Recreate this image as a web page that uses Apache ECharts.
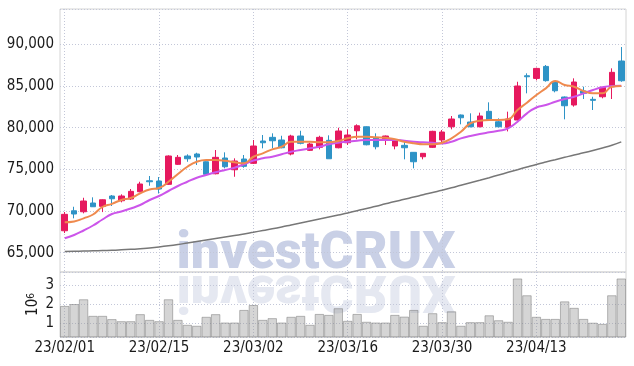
<!DOCTYPE html>
<html>
<head>
<meta charset="utf-8">
<script src="https://cdn.jsdelivr.net/npm/echarts@6/dist/echarts.min.js"></script>
<style>
  html, body { margin: 0; padding: 0; background: #fff; }
  #chart { width: 634px; height: 366px; }
</style>
</head>
<body>
<div id="chart"></div>
<script>
// trading days, 23/02/01 .. 23/04/26
var dates = [
  '23/02/01','23/02/02','23/02/03','23/02/06','23/02/07','23/02/08','23/02/09','23/02/10','23/02/13','23/02/14',
  '23/02/15','23/02/16','23/02/17','23/02/20','23/02/21','23/02/22','23/02/23','23/02/24','23/02/27','23/02/28',
  '23/03/02','23/03/03','23/03/06','23/03/07','23/03/08','23/03/09','23/03/10','23/03/13','23/03/14','23/03/15',
  '23/03/16','23/03/17','23/03/20','23/03/21','23/03/22','23/03/23','23/03/24','23/03/27','23/03/28','23/03/29',
  '23/03/30','23/03/31','23/04/03','23/04/04','23/04/05','23/04/06','23/04/07','23/04/10','23/04/11','23/04/12',
  '23/04/13','23/04/14','23/04/17','23/04/18','23/04/19','23/04/20','23/04/21','23/04/24','23/04/25','23/04/26'
];

var open = [
  67630, 70030, 69910, 70960, 70560, 71800, 71230, 71440, 72310, 73630,
  73600, 73200, 75600, 76600, 76840, 75910, 74470, 76360, 74950, 76240,
  75720, 78400, 78840, 78520, 76840, 79000, 77280, 77640, 78480, 77590,
  78190, 79630, 80110, 78760, 78670, 77800, 77880, 77040, 76510, 77640,
  78520, 80110, 81520, 80680, 80110, 81960, 80710, 80040, 80920, 86230,
  85910, 87350, 85520, 83680, 82720, 84400, 83400, 83710, 84910, 88000
];
var close = [
  69600, 69640, 71200, 70510, 71350, 71470, 71800, 72360, 73240, 73510,
  72640, 76600, 76440, 76270, 76480, 74400, 76440, 75310, 76000, 75360,
  77800, 78190, 78430, 77590, 79000, 78120, 78040, 78840, 76270, 79600,
  79120, 80230, 77950, 77710, 79000, 78400, 77590, 75910, 76920, 79560,
  79480, 81040, 81190, 80110, 81400, 80920, 80110, 81040, 85000, 86110,
  87110, 85640, 84430, 82630, 85480, 84120, 83280, 84840, 86640, 85630
];
var low = [
  67360, 69120, 69720, 70480, 69870, 70600, 71040, 71320, 72240, 73030,
  72100, 73120, 75520, 75910, 75520, 74320, 74400, 75120, 74110, 75190,
  75640, 77520, 77520, 77520, 76680, 78000, 77200, 77400, 76270, 77520,
  77920, 78600, 77880, 77400, 77920, 77400, 76200, 75120, 76200, 77560,
  78190, 79800, 80400, 80040, 80040, 80830, 80040, 79550, 80860, 84120,
  85680, 85520, 84240, 81000, 82520, 83440, 82120, 83520, 83440, 85510
];
var high = [
  69880, 70510, 71590, 71640, 71400, 71920, 72000, 72640, 73510, 74200,
  74080, 76680, 76720, 76800, 76990, 75960, 77320, 77040, 76320, 76720,
  78520, 79120, 79320, 79030, 79150, 79630, 78190, 79030, 79080, 79990,
  79800, 80400, 80160, 79320, 79060, 78520, 78310, 77080, 76960, 79630,
  79720, 81400, 81580, 81720, 81800, 83040, 81120, 81920, 85510, 86520,
  87200, 87520, 85580, 83740, 85920, 84920, 83710, 84880, 87120, 89680
];

// moving averages as drawn
var maShort = [
  68640, 68740, 69120, 69580, 70480, 70860, 71320, 71560, 72120, 72580,
  72760, 73510, 74440, 75310, 75910, 76120, 76120, 76030, 75840, 75720,
  76510, 76920, 77400, 77710, 78310, 78310, 78310, 78240, 78240, 78400,
  78720, 78910, 78910, 78840, 78790, 78600, 78310, 78120, 78000, 78000,
  78190, 78720, 79510, 80520, 80830, 80920, 80920, 81000, 82120, 82990,
  83920, 84720, 85600, 85120, 84910, 84400, 84120, 84120, 84910, 85000
];
var maMid = [
  66720, 67120, 67660, 68260, 68980, 69640, 69940, 70300, 70720, 71320,
  71800, 72400, 73000, 73510, 73990, 74320, 74640, 74920, 75190, 75600,
  76060, 76320, 76510, 76800, 77110, 77320, 77520, 77710, 78000, 78190,
  78310, 78430, 78520, 78520, 78520, 78520, 78430, 78310, 78240, 78190,
  78100, 78310, 78720, 79000, 79240, 79440, 79630, 79920, 80710, 81720,
  82420, 82720, 83110, 83440, 83710, 84120, 84520, 84840, 85000, 85030
];
var maLong = [
  65140, 65160, 65200, 65220, 65260, 65290, 65340, 65400, 65460, 65560,
  65680, 65820, 65980, 66160, 66340, 66520, 66700, 66880, 67060, 67240,
  67450, 67660, 67860, 68080, 68320, 68560, 68800, 69040, 69280, 69520,
  69760, 70020, 70300, 70570, 70860, 71140, 71400, 71680, 71940, 72220,
  72490, 72780, 73090, 73390, 73690, 74000, 74320, 74640, 74960, 75280,
  75590, 75880, 76160, 76440, 76720, 76980, 77260, 77560, 77880, 78300
];

// volume, millions of shares
var volume = [
  1.90, 2.00, 2.25, 1.38, 1.38, 1.21, 1.10, 1.10, 1.47, 1.17,
  1.10, 2.25, 1.17, 0.91, 0.86, 1.33, 1.47, 1.03, 1.03, 1.69,
  1.95, 1.17, 1.26, 1.03, 1.33, 1.38, 0.91, 1.48, 1.43, 1.78,
  1.12, 1.48, 1.07, 1.03, 1.03, 1.43, 1.34, 1.69, 0.86, 1.52,
  1.05, 1.62, 0.86, 1.05, 1.05, 1.41, 1.15, 1.07, 3.34, 2.46,
  1.33, 1.22, 1.22, 2.14, 1.80, 1.22, 1.02, 0.96, 2.46, 3.34
];

var candles = dates.map(function (d, i) {
  return [open[i], close[i], low[i], high[i]];
});

var labelFont = '"Liberation Sans Narrow", "DejaVu Sans Condensed", sans-serif';
var gridLine = { show: true, lineStyle: { color: '#c3c7d8', type: [1, 2], width: 1 } };
var markFont = '900 52px Roboto, "Liberation Sans", sans-serif';

var myChart = echarts.init(document.getElementById('chart'));

var option = {
  animation: false,
  backgroundColor: '#fff',
  grid: [
    { left: 60, right: 8, top: 9, height: 263, show: true, borderColor: '#d4d4d4', borderWidth: 1 },
    { left: 60, right: 8, top: 272, height: 65, show: true, borderColor: '#d4d4d4', borderWidth: 1 }
  ],
  graphic: [
    {
      type: 'group', x: 316, y: 272, z: 0,
      children: [{
        type: 'text', x: 0, y: -17,
        style: { text: 'investCRUX', font: markFont, fill: '#c9d0e6', align: 'center', verticalAlign: 'middle' }
      }]
    },
    {
      type: 'group', x: 316, y: 272, scaleY: -1, z: 0,
      children: [{
        type: 'text', x: 0, y: -17,
        style: { text: 'investCRUX', font: markFont, fill: '#e5e8f1', align: 'center', verticalAlign: 'middle' }
      }]
    }
  ],
  xAxis: [
    {
      type: 'category', gridIndex: 0, data: dates, boundaryGap: true,
      axisLine: { show: false }, axisTick: { show: false, alignWithLabel: true }, axisLabel: { show: false, interval: 9 },
      splitLine: { show: true, interval: 9, alignWithLabel: true, lineStyle: gridLine.lineStyle }
    },
    {
      type: 'category', gridIndex: 1, data: dates, boundaryGap: true,
      axisLine: { show: false }, axisTick: { show: false, alignWithLabel: true },
      axisLabel: { interval: 9, margin: 4, color: '#1a1a1a', fontSize: 15, fontFamily: labelFont },
      splitLine: { show: true, interval: 9, alignWithLabel: true, lineStyle: gridLine.lineStyle }
    }
  ],
  yAxis: [
    {
      type: 'value', gridIndex: 0, min: 62680, max: 94240, splitNumber: 5,
      axisLine: { show: false }, axisTick: { show: false },
      axisLabel: { margin: 6, color: '#1a1a1a', fontSize: 15, fontFamily: labelFont, showMinLabel: false, showMaxLabel: false },
      splitLine: gridLine
    },
    {
      type: 'value', gridIndex: 1, min: 0.27, max: 3.68, splitNumber: 3,
      name: '{a|10}{b|6}', nameLocation: 'middle', nameGap: 19, nameMoveOverlap: false,
      nameTextStyle: {
        color: '#1a1a1a', fontFamily: labelFont,
        rich: { a: { fontSize: 15, fontFamily: labelFont, color: '#1a1a1a' }, b: { fontSize: 10, fontFamily: labelFont, color: '#1a1a1a', verticalAlign: 'top' } }
      },
      axisLine: { show: false }, axisTick: { show: false },
      axisLabel: { margin: 6, color: '#1a1a1a', fontSize: 15, fontFamily: labelFont, showMinLabel: false, showMaxLabel: false },
      splitLine: gridLine
    }
  ],
  series: [
    {
      name: 'volume', type: 'bar', xAxisIndex: 1, yAxisIndex: 1, data: volume,
      barCategoryGap: '0%',
      itemStyle: { color: 'rgba(150,150,150,0.4)', borderColor: 'rgba(120,120,120,0.5)', borderWidth: 1 }
    },
    {
      name: 'price', type: 'candlestick', xAxisIndex: 0, yAxisIndex: 0, data: candles,
      barWidth: 6,
      itemStyle: { color: '#e6195e', color0: '#2e93c6', borderColor: '#e6195e', borderColor0: '#2e93c6', borderWidth: 1 }
    },
    {
      name: 'long', type: 'line', xAxisIndex: 0, yAxisIndex: 0, data: maLong,
      smooth: true, showSymbol: false, lineStyle: { color: '#777', width: 1.5 }
    },
    {
      name: 'mid', type: 'line', xAxisIndex: 0, yAxisIndex: 0, data: maMid,
      smooth: true, showSymbol: false, lineStyle: { color: '#cc55ea', width: 2 }
    },
    {
      name: 'short', type: 'line', xAxisIndex: 0, yAxisIndex: 0, data: maShort,
      smooth: true, showSymbol: false, lineStyle: { color: '#ef8a4e', width: 2 }
    }
  ]
};

myChart.setOption(option);
</script>
</body>
</html>
